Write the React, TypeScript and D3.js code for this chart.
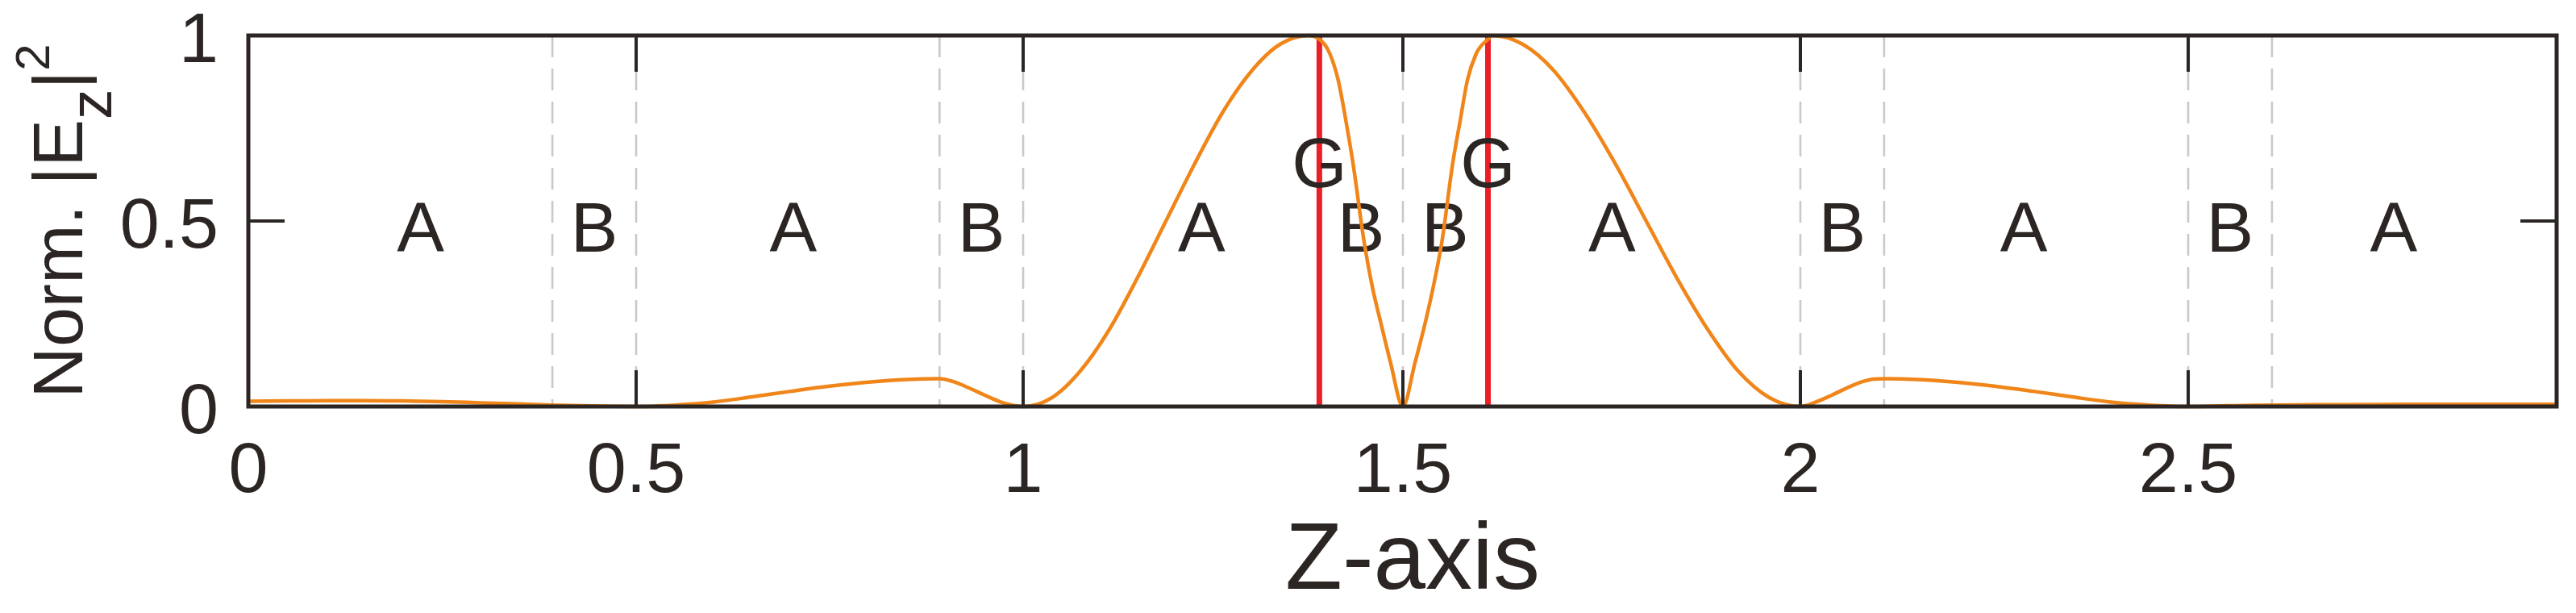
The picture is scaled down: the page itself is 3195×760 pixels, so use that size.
import React from "react";
import * as d3 from "d3";

// ---- data ----
const Z_VALUES = [
  0, 0.05, 0.1, 0.15, 0.2, 0.25, 0.3, 0.35, 0.392,
  0.43, 0.47, 0.5,
  0.55, 0.6, 0.65, 0.7, 0.75, 0.8, 0.85, 0.892,
  0.91, 0.93, 0.95, 0.97, 0.985, 1.0,
  1.038, 1.075, 1.113, 1.15, 1.188, 1.226, 1.263, 1.301, 1.338, 1.376, 1.39,
  1.404, 1.415, 1.425, 1.434, 1.449, 1.46, 1.471, 1.484, 1.5,
  1.515, 1.528, 1.538, 1.549, 1.563, 1.572, 1.581, 1.592, 1.607, 1.612,
  1.651, 1.69, 1.728, 1.767, 1.806, 1.845, 1.884, 1.922, 1.961, 2.0,
  2.02, 2.04, 2.06, 2.08, 2.095, 2.108,
  2.15, 2.2, 2.25, 2.3, 2.35, 2.4, 2.45, 2.5,
  2.55, 2.608, 2.7, 2.8, 2.9, 2.975,
];
const EZ_VALUES = [
  0.014, 0.015, 0.016, 0.016, 0.015, 0.013, 0.01, 0.007, 0.004,
  0.002, 0.0005, 0,
  0.004, 0.012, 0.026, 0.041, 0.055, 0.066, 0.073, 0.075,
  0.067, 0.05, 0.031, 0.013, 0.004, 0,
  0.024, 0.095, 0.206, 0.345, 0.5, 0.655, 0.794, 0.905, 0.976, 1.0, 0.99,
  0.95, 0.878, 0.77, 0.66, 0.443, 0.32, 0.225, 0.116, 0,
  0.116, 0.225, 0.32, 0.443, 0.66, 0.77, 0.878, 0.95, 0.99, 1.0,
  0.976, 0.905, 0.794, 0.655, 0.5, 0.345, 0.206, 0.095, 0.024, 0,
  0.012, 0.03, 0.05, 0.067, 0.074, 0.075,
  0.073, 0.066, 0.055, 0.041, 0.026, 0.012, 0.004, 0,
  0.002, 0.004, 0.005, 0.006, 0.006, 0.006,
];

const X_TICKS = [0, 0.5, 1, 1.5, 2, 2.5];
const X_TICK_LABELS = ["0", "0.5", "1", "1.5", "2", "2.5"];
const Y_TICKS = [0, 0.5, 1];
const Y_TICK_LABELS = ["0", "0.5", "1"];

const LAYER_BOUNDARIES = [0.392, 0.5, 0.892, 1, 1.5, 2, 2.108, 2.5, 2.608];
const G_POSITIONS = [1.39, 1.607];
const G_LABELS = ["G", "G"];
const LAYER_LABELS = ["A", "B", "A", "B", "A", "B", "B", "A", "B", "A", "B", "A"];
const LAYER_LABEL_Z = [0.222, 0.446, 0.703, 0.946, 1.235, 1.445, 1.553, 1.763, 2.054, 2.288, 2.554, 2.765];

const X_DOMAIN = [0, 0.5, 1, 1.5, 2, 2.5, 2.975];

// ---- layout / style ----
const W = 3195;
const H = 760;
const LEFT = 308;
const RIGHT = 3171;
const TOP = 44;
const BOTTOM = 504;
const X_RANGE = [LEFT, 789, 1269, 1740, 2233, 2714, RIGHT];
const INK = "#2b2624";
const FONT = "'Liberation Sans', Arial, Helvetica, sans-serif";
const TICK_LEN = 45;

export default function App() {
  const x = d3.scaleLinear().domain(X_DOMAIN).range(X_RANGE);
  const y = d3.scaleLinear().domain([0, 1]).range([BOTTOM, TOP]);
  const pts = Z_VALUES.map((z, i) => [z, EZ_VALUES[i]] as [number, number]);
  const line = d3
    .line<[number, number]>()
    .x((d) => x(d[0]))
    .y((d) => y(d[1]))
    .curve(d3.curveMonotoneX);

  return (
    <svg
      width={W}
      height={H}
      style={{ position: "absolute", left: 0, top: 0, background: "#fff" }}
      fontFamily={FONT}
    >
      <rect x={0} y={0} width={W} height={H} fill="#fff" />
      {/* dashed layer boundaries */}
      {LAYER_BOUNDARIES.map((b, i) => (
        <line
          key={"d" + i}
          x1={x(b)}
          x2={x(b)}
          y1={TOP}
          y2={BOTTOM}
          stroke="#c9c9c9"
          strokeWidth={2.6}
          strokeDasharray="27 14"
        />
      ))}
      {/* G layers (red) */}
      {G_POSITIONS.map((g, i) => (
        <line
          key={"g" + i}
          x1={x(g)}
          x2={x(g)}
          y1={TOP}
          y2={BOTTOM}
          stroke="#ec1f28"
          strokeWidth={7}
        />
      ))}
      {/* layer labels */}
      {LAYER_LABELS.map((t, i) => (
        <text
          key={"l" + i}
          x={x(LAYER_LABEL_Z[i])}
          y={y(0.5) + 38}
          textAnchor="middle"
          fontSize={88}
          fill={INK}
        >
          {t}
        </text>
      ))}
      {G_LABELS.map((t, i) => (
        <text
          key={"gl" + i}
          x={x(G_POSITIONS[i])}
          y={y(0.675) + 38}
          textAnchor="middle"
          fontSize={88}
          fill={INK}
        >
          {t}
        </text>
      ))}
      {/* curve */}
      <path d={line(pts) || ""} fill="none" stroke="#f0861a" strokeWidth={4.5} />
      {/* ticks */}
      {X_TICKS.map((t, i) => (
        <g key={"xt" + i}>
          <line x1={x(t)} x2={x(t)} y1={BOTTOM} y2={BOTTOM - TICK_LEN} stroke={INK} strokeWidth={4} />
          <line x1={x(t)} x2={x(t)} y1={TOP} y2={TOP + TICK_LEN} stroke={INK} strokeWidth={4} />
          <text x={x(t)} y={610} textAnchor="middle" fontSize={88} fill={INK}>
            {X_TICK_LABELS[i]}
          </text>
        </g>
      ))}
      {Y_TICKS.map((t, i) => (
        <g key={"yt" + i}>
          <line x1={LEFT} x2={LEFT + TICK_LEN} y1={y(t)} y2={y(t)} stroke={INK} strokeWidth={4} />
          <line x1={RIGHT} x2={RIGHT - TICK_LEN} y1={y(t)} y2={y(t)} stroke={INK} strokeWidth={4} />
          <text x={271} y={y(t) + 33} textAnchor="end" fontSize={88} fill={INK}>
            {Y_TICK_LABELS[i]}
          </text>
        </g>
      ))}
      {/* box */}
      <rect
        x={LEFT}
        y={TOP}
        width={RIGHT - LEFT}
        height={BOTTOM - TOP}
        fill="none"
        stroke={INK}
        strokeWidth={5}
      />
      {/* axis titles */}
      <text x={1752} y={730} textAnchor="middle" fontSize={116} fill={INK}>
        Z-axis
      </text>
      <text
        transform={`translate(102, ${(TOP + BOTTOM) / 2}) rotate(-90)`}
        textAnchor="middle"
        fontSize={88}
        fill={INK}
      >
        Norm. |E
        <tspan fontSize={75} dy={36}>
          z
        </tspan>
        <tspan dy={-36}>|</tspan>
        <tspan fontSize={60} dy={-41}>
          2
        </tspan>
      </text>
    </svg>
  );
}
